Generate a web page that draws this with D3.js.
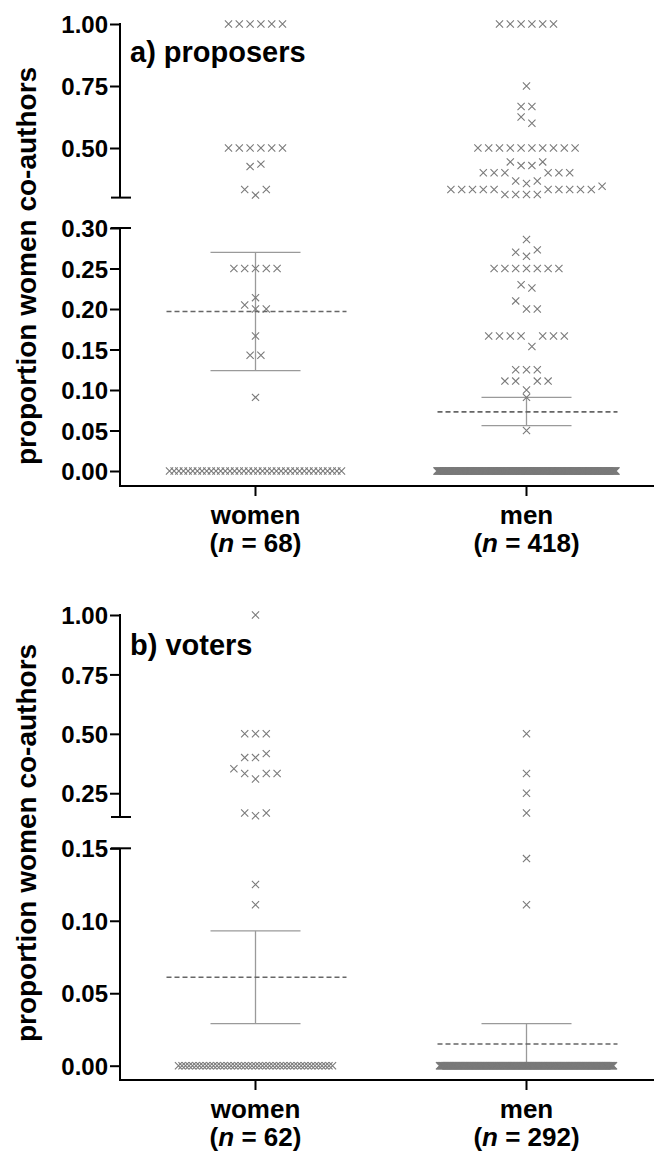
<!DOCTYPE html>
<html><head><meta charset="utf-8">
<script src="https://cdn.jsdelivr.net/npm/d3@7"></script>
<style>
html,body{margin:0;padding:0;background:#fff;}
text{font-family:"Liberation Sans",Arial,sans-serif;font-weight:bold;fill:#000;}
</style></head>
<body><svg id="c" width="654" height="1152"></svg>
<script>
// ---------- data ----------
const categories = ["women", "men"];
const nProposers = [68, 418];
const nVoters = [62, 292];

// non-zero values, listed row by row (left to right) as they appear in the scatter
const proposersWomenRows = [
  [1, 1, 1, 1, 1, 1],
  [0.5, 0.5, 0.5, 0.5, 0.5, 0.5],
  [0.425, 0.435],
  [0.333, 0.31, 0.333],
  [0.25, 0.25, 0.25, 0.25, 0.25],
  [0.214],
  [0.205, 0.2, 0.2],
  [0.1667],
  [0.1429, 0.1429],
  [0.0909]
];
const proposersMenRows = [
  [1, 1, 1, 1, 1, 1],
  [0.75],
  [0.667, 0.667],
  [0.625, 0.6],
  [0.5, 0.5, 0.5, 0.5, 0.5, 0.5, 0.5, 0.5, 0.5, 0.5],
  [0.444, 0.429, 0.429, 0.444],
  [0.4, 0.4, 0.4, 0.367, 0.357, 0.367, 0.4, 0.4, 0.4],
  [0.333, 0.333, 0.333, 0.333, 0.333, 0.3125, 0.3125, 0.3125, 0.3125, 0.333, 0.333, 0.333, 0.333, 0.333, 0.346],
  [0.2857],
  [0.27, 0.265, 0.273],
  [0.25, 0.25, 0.25, 0.25, 0.25, 0.25, 0.25],
  [0.23, 0.226],
  [0.21, 0.2, 0.2],
  [0.1667, 0.1667, 0.1667, 0.1667, 0.1538, 0.1667, 0.1667, 0.1667],
  [0.125, 0.125, 0.125],
  [0.111, 0.111, 0.1, 0.111, 0.111],
  [0.0909],
  [0.05]
];
const votersWomenRows = [
  [1],
  [0.5, 0.5, 0.5],
  [0.4, 0.4, 0.4167],
  [0.353, 0.333, 0.31, 0.333, 0.333],
  [0.1667, 0.155, 0.1667],
  [0.125],
  [0.111]
];
const votersMenRows = [
  [0.5],
  [0.333],
  [0.25],
  [0.1667],
  [0.1429],
  [0.111]
];
// number of authors with zero women co-authors
const proposersZeroCounts = [38, 335];
const votersZeroCounts = [45, 286];

// means and 95% CI
const proposersMean = [0.197, 0.073];
const proposersCIHigh = [0.27, 0.091];
const proposersCILow = [0.124, 0.056];
const votersMean = [0.061, 0.015];
const votersCIHigh = [0.093, 0.029];
const votersCILow = [0.029, 0.0];

// tick values
const proposersUpperTicks = [0.50, 0.75, 1.00];
const proposersLowerTicks = [0, 0.05, 0.10, 0.15, 0.20, 0.25, 0.30];
const votersUpperTicks = [0.25, 0.50, 0.75, 1.00];
const votersLowerTicks = [0, 0.05, 0.10, 0.15];

const yTitle = "proportion women co-authors";

// ---------- layout ----------
const svg = d3.select("#c");
const axisX = 120;
const x = d3.scalePoint().domain(categories).range([axisX, 662]).padding(0.5);
const fmt = d3.format(".2f");
const markerColor = "#7a7a7a";

const panels = [
  {
    title: "a) proposers", titleY: 62,
    split: 0.30,
    upper: d3.scaleLinear().domain([0.30, 1.0]).range([197.6, 24]),
    lower: d3.scaleLinear().domain([0, 0.30]).range([471, 228]),
    upperTicks: proposersUpperTicks, lowerTicks: proposersLowerTicks,
    xAxisY: 486, titleCY: 266,
    rows: [proposersWomenRows, proposersMenRows],
    zeros: proposersZeroCounts, zeroSpread: [172, 179],
    n: nProposers,
    mean: proposersMean, hi: proposersCIHigh, lo: proposersCILow
  },
  {
    title: "b) voters", titleY: 655,
    split: 0.15,
    upper: d3.scaleLinear().domain([0.15, 1.0]).range([817, 615]),
    lower: d3.scaleLinear().domain([0, 0.15]).range([1065.7, 848.3]),
    upperTicks: votersUpperTicks, lowerTicks: votersLowerTicks,
    xAxisY: 1080, titleCY: 843,
    rows: [votersWomenRows, votersMenRows],
    zeros: votersZeroCounts, zeroSpread: [154, 174],
    n: nVoters,
    mean: votersMean, hi: votersCIHigh, lo: votersCILow
  }
];

const cross = s => `M${-s},${-s}L${s},${s}M${-s},${s}L${s},${-s}`;

panels.forEach(p => {
  const y = v => (v > p.split ? p.upper(v) : p.lower(v));
  const g = svg.append("g");

  // y axes (segments)
  const ua = g.append("g").attr("transform", `translate(${axisX},0)`)
    .call(d3.axisLeft(p.upper).tickValues(p.upperTicks).tickFormat(fmt).tickSize(10).tickSizeOuter(0).tickPadding(2));
  const la = g.append("g").attr("transform", `translate(${axisX},0)`)
    .call(d3.axisLeft(p.lower).tickValues(p.lowerTicks).tickFormat(fmt).tickSize(10).tickSizeOuter(0).tickPadding(2));
  [ua, la].forEach(a => {
    a.select(".domain").remove();
    a.selectAll(".tick line").attr("stroke", "#000").attr("stroke-width", 2);
    a.selectAll(".tick text").attr("font-size", 24).attr("font-family", "Liberation Sans, Arial, sans-serif")
      .attr("font-weight", "bold").attr("fill", "#000").attr("dy", "0.36em");
  });
  const uTop = p.upper.range()[1], uBot = p.upper.range()[0];
  const lTop = p.lower.range()[1];
  g.append("line").attr("x1", axisX).attr("x2", axisX).attr("y1", uTop - 1).attr("y2", uBot)
    .attr("stroke", "#000").attr("stroke-width", 2);
  g.append("line").attr("x1", axisX).attr("x2", axisX).attr("y1", lTop).attr("y2", p.xAxisY)
    .attr("stroke", "#000").attr("stroke-width", 2);
  // break caps
  [uBot, lTop].forEach(yy => g.append("line").attr("x1", axisX - 9).attr("x2", axisX + 11)
    .attr("y1", yy).attr("y2", yy).attr("stroke", "#000").attr("stroke-width", 2));

  // x axis
  g.append("line").attr("x1", axisX - 1).attr("x2", 654).attr("y1", p.xAxisY).attr("y2", p.xAxisY)
    .attr("stroke", "#000").attr("stroke-width", 2);
  categories.forEach((c, i) => {
    const cx = x(c);
    g.append("line").attr("x1", cx).attr("x2", cx).attr("y1", p.xAxisY).attr("y2", p.xAxisY + 10)
      .attr("stroke", "#000").attr("stroke-width", 2);
    g.append("text").attr("x", cx).attr("y", p.xAxisY + 38).attr("text-anchor", "middle")
      .attr("font-size", 26).text(c);
    const t = g.append("text").attr("x", cx).attr("y", p.xAxisY + 66).attr("text-anchor", "middle")
      .attr("font-size", 26);
    t.append("tspan").text("(");
    t.append("tspan").attr("font-style", "italic").text("n");
    t.append("tspan").text(" = " + p.n[i] + ")");
  });

  // y title
  g.append("text").attr("transform", `translate(36,${p.titleCY}) rotate(-90)`)
    .attr("text-anchor", "middle").attr("font-size", 28).text(yTitle);
  // panel title
  g.append("text").attr("x", 130).attr("y", p.titleY).attr("font-size", 29).text(p.title);

  // error bars
  categories.forEach((c, i) => {
    const cx = x(c);
    const eb = g.append("g").attr("stroke", "#9a9a9a").attr("stroke-width", 1.3);
    eb.append("line").attr("x1", cx).attr("x2", cx).attr("y1", y(p.hi[i])).attr("y2", y(p.lo[i]));
    [p.hi[i], p.lo[i]].forEach(v => eb.append("line").attr("x1", cx - 45).attr("x2", cx + 45)
      .attr("y1", y(v)).attr("y2", y(v)));
  });

  // points
  categories.forEach((c, i) => {
    const cx = x(c);
    const pts = [];
    const rows = p.rows[i].concat([d3.range(p.zeros[i]).map(() => 0)]);
    rows.forEach(row => {
      const n = row.length;
      const sp = n > 1 ? Math.min(10.8, p.zeroSpread[i] / (n - 1)) : 0;
      row.forEach((v, k) => pts.push({v, px: cx + (k - (n - 1) / 2) * sp}));
    });
    g.append("g").selectAll("path").data(pts).join("path")
      .attr("transform", d => `translate(${d.px},${y(d.v)})`)
      .attr("d", cross(3.6)).attr("fill", "none").attr("stroke", markerColor).attr("stroke-width", 1.1);
  });

  // mean lines
  categories.forEach((c, i) => {
    const cx = x(c);
    g.append("line").attr("x1", cx - 89).attr("x2", cx + 91).attr("y1", y(p.mean[i])).attr("y2", y(p.mean[i]))
      .attr("stroke", "#666").attr("stroke-width", 1.6).attr("stroke-dasharray", "5,3");
  });
});
</script></body></html>
